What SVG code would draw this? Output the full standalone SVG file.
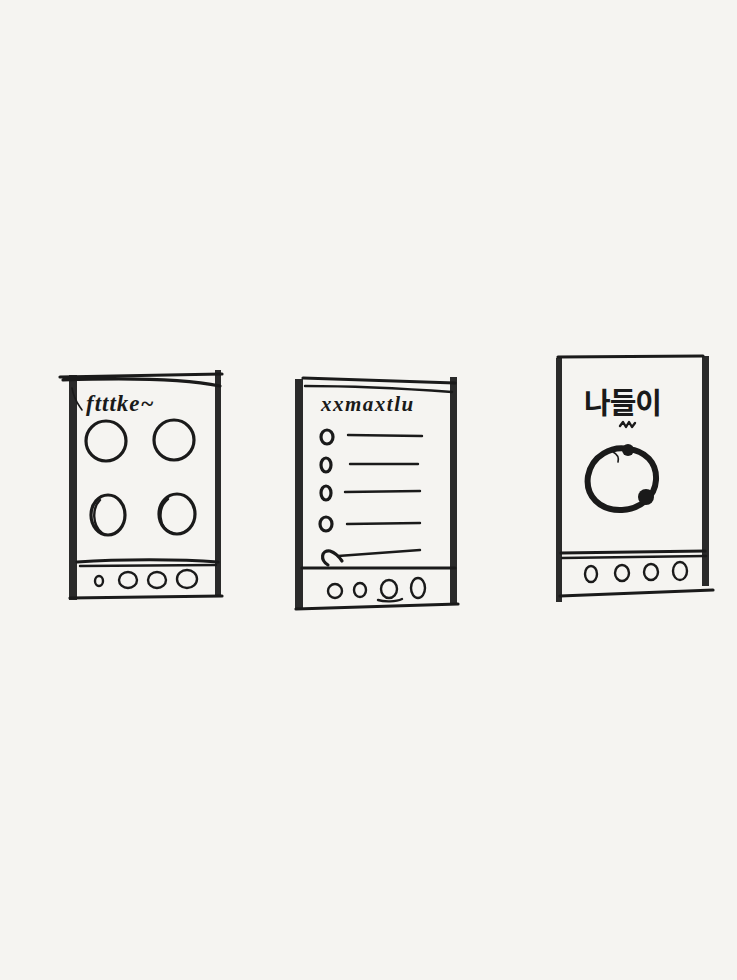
<svg xmlns="http://www.w3.org/2000/svg" width="737" height="980" viewBox="0 0 737 980">
<defs>
<style>
.ink{fill:none;stroke:#1a1a1a;stroke-linecap:round;stroke-linejoin:round}
.thick{stroke-width:3.2}
.med{stroke-width:2.4}
.thin{stroke-width:1.6}
.bar{fill:#2a2a2a;stroke:none}
.hand{font-family:"Liberation Serif","DejaVu Serif",serif;font-style:italic;font-weight:bold;fill:#1a1a1a}
.handk{font-family:"Noto Sans CJK KR","Noto Sans",sans-serif;font-weight:bold;fill:#1a1a1a}
</style>
</defs>
<rect width="737" height="980" fill="#f5f4f1"/>

<g id="phone1">
  <rect class="bar" x="69" y="375" width="8" height="225"/>
  <rect class="bar" x="215" y="370" width="6" height="226"/>
  <path class="ink thick" d="M60 377 L222 374 M63 380 C120 378 180 378 220 386"/>
  <path class="ink thin" d="M72 388 C74 400 78 404 82 410"/>
  <path class="ink thick" d="M77 562 C120 559 180 559 218 562"/>
  <path class="ink med" d="M80 566 L216 565"/>
  <path class="ink thick" d="M70 598 L222 596"/>
  <text class="hand" x="86" y="411" font-size="23" letter-spacing="1">ftttke~</text>
  <circle class="ink thick" cx="106" cy="441" r="20"/>
  <circle class="ink thick" cx="174" cy="440" r="20"/>
  <ellipse class="ink thick" cx="108" cy="515" rx="17" ry="20"/>
  <path class="ink med" d="M100 500 C92 508 92 525 102 533"/>
  <ellipse class="ink thick" cx="177" cy="514" rx="18" ry="20"/>
  <path class="ink med" d="M168 499 C157 508 158 528 172 533"/>
  <ellipse class="ink med" cx="99" cy="581" rx="4" ry="5"/>
  <ellipse class="ink med" cx="128" cy="580" rx="9" ry="8"/>
  <ellipse class="ink med" cx="157" cy="580" rx="9" ry="8"/>
  <ellipse class="ink med" cx="187" cy="579" rx="10" ry="9"/>
</g>

<g id="phone2">
  <rect class="bar" x="295" y="379" width="8" height="230"/>
  <rect class="bar" x="450" y="377" width="7" height="228"/>
  <path class="ink thick" d="M303 378 L455 383"/>
  <path class="ink med" d="M305 386 C350 386 410 389 452 392"/>
  <path class="ink thick" d="M302 568 L455 568"/>
  <path class="ink thick" d="M296 609 L458 604"/>
  <text class="hand" x="321" y="411" font-size="21" letter-spacing="1.5">xxmaxtlu</text>
  <g class="ink thick">
    <ellipse cx="327" cy="437" rx="6" ry="7"/>
    <ellipse cx="326" cy="465" rx="5" ry="7"/>
    <ellipse cx="326" cy="493" rx="5" ry="7"/>
    <ellipse cx="326" cy="524" rx="6" ry="7"/>
    <path d="M328 565 C320 560 321 550 330 551 C336 553 340 558 342 561"/>
  </g>
  <g class="ink med">
    <path d="M348 435 L422 436"/>
    <path d="M350 464 L418 464"/>
    <path d="M345 492 L420 491"/>
    <path d="M347 524 L420 523"/>
    <path d="M338 556 L420 550"/>
  </g>
  <g class="ink med">
    <ellipse cx="335" cy="591" rx="7" ry="7"/>
    <ellipse cx="360" cy="590" rx="6" ry="7"/>
    <ellipse cx="389" cy="589" rx="8" ry="9"/>
    <ellipse cx="418" cy="588" rx="7" ry="10"/>
    <path d="M378 600 C384 602 396 602 402 599"/>
  </g>
</g>

<g id="phone3">
  <rect class="bar" x="556" y="358" width="6" height="244"/>
  <rect class="bar" x="702" y="356" width="7" height="230"/>
  <path class="ink thick" d="M558 357 L703 356"/>
  <path class="ink thick" d="M561 553 L705 551"/>
  <path class="ink med" d="M562 558 L706 556"/>
  <path class="ink thick" d="M560 596 L713 590"/>
  <text class="handk" x="584" y="414" font-size="29" letter-spacing="-1">나들이</text>
  <path class="ink med" d="M620 426 L623 422 L626 427 L629 422 L632 427 L635 423"/>
  <path class="ink" stroke-width="6" d="M628 449 C612 446 592 455 588 476 C585 496 600 511 622 510 C640 509 655 497 656 480 C657 462 645 451 628 449"/>
  <path class="ink thin" d="M613 452 C617 454 619 458 618 462"/>
  <circle cx="628" cy="450" r="6" fill="#1a1a1a"/>
  <circle cx="646" cy="497" r="8" fill="#1a1a1a"/>
  <g class="ink med">
    <ellipse cx="591" cy="574" rx="6" ry="8"/>
    <ellipse cx="622" cy="573" rx="7" ry="8"/>
    <ellipse cx="651" cy="572" rx="7" ry="8"/>
    <ellipse cx="680" cy="571" rx="7" ry="9"/>
  </g>
</g>
</svg>
